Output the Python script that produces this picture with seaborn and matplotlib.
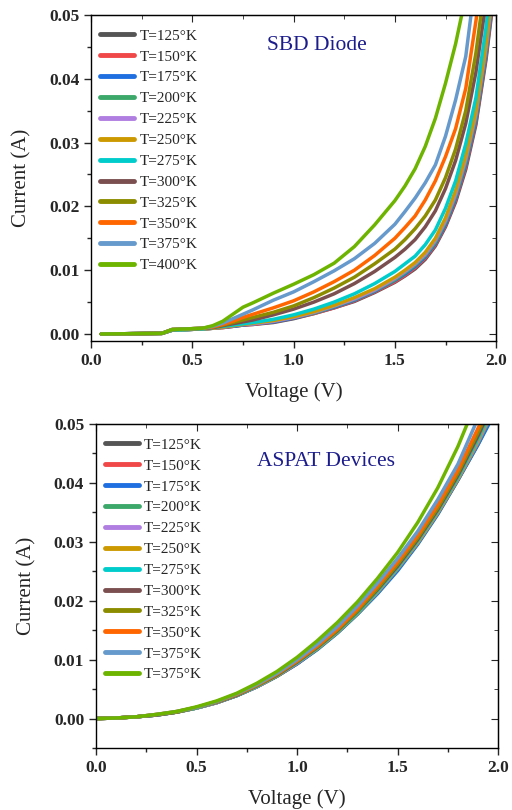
import matplotlib
matplotlib.use("Agg")
import matplotlib.pyplot as plt
import seaborn as sns
from matplotlib.ticker import MultipleLocator, FormatStrFormatter

sns.set_style("ticks")
plt.rcParams["font.family"] = ["Liberation Serif", "DejaVu Serif"]

# colours used for the temperature series (same in both panels)
colors = ["#555555", "#f04848", "#1f6fe0", "#3ca86a", "#b07ee0", "#cc9900",
          "#00cccc", "#7b4f4f", "#8c8c00", "#ff6600", "#6699cc", "#6db400"]

# ---------------- SBD diode data ----------------
sbd_labels = ["T=125°K", "T=150°K", "T=175°K", "T=200°K", "T=225°K", "T=250°K",
              "T=275°K", "T=300°K", "T=325°K", "T=350°K", "T=375°K", "T=400°K"]
sbd_v = [0.05, 0.35, 0.4, 0.55, 0.6, 0.65, 0.7, 0.75, 0.8, 0.9, 1.0, 1.1, 1.2,
         1.3, 1.4, 1.5, 1.55, 1.6, 1.65, 1.7, 1.75, 1.8, 1.85, 1.9, 1.95, 2.0]
sbd_125 = [0, 0.0001, 0.0006, 0.0008, 0.0009, 0.0010, 0.0012, 0.0014, 0.0015, 0.0018, 0.0024, 0.0032, 0.0041,
           0.0051, 0.0065, 0.0081, 0.0091, 0.0102, 0.0117, 0.0138, 0.0168, 0.0207, 0.0258, 0.0328, 0.0430, 0.0560]
sbd_150 = [0, 0.0001, 0.0006, 0.0008, 0.0009, 0.0010, 0.0012, 0.0014, 0.0015, 0.0019, 0.0025, 0.0032, 0.0041,
           0.0052, 0.0066, 0.0082, 0.0092, 0.0104, 0.0119, 0.0140, 0.0170, 0.0210, 0.0262, 0.0332, 0.0435, 0.0565]
sbd_175 = [0, 0.0001, 0.0006, 0.0008, 0.0009, 0.0011, 0.0012, 0.0014, 0.0016, 0.0019, 0.0025, 0.0033, 0.0042,
           0.0053, 0.0067, 0.0084, 0.0094, 0.0106, 0.0121, 0.0142, 0.0172, 0.0213, 0.0266, 0.0336, 0.0440, 0.0570]
sbd_200 = [0, 0.0001, 0.0006, 0.0008, 0.0009, 0.0011, 0.0013, 0.0015, 0.0016, 0.0020, 0.0026, 0.0033, 0.0043,
           0.0054, 0.0068, 0.0085, 0.0096, 0.0108, 0.0123, 0.0144, 0.0175, 0.0216, 0.0270, 0.0340, 0.0444, 0.0575]
sbd_225 = [0, 0.0001, 0.0006, 0.0008, 0.0009, 0.0011, 0.0013, 0.0015, 0.0016, 0.0020, 0.0026, 0.0034, 0.0044,
           0.0055, 0.0069, 0.0087, 0.0098, 0.0110, 0.0125, 0.0147, 0.0178, 0.0220, 0.0275, 0.0345, 0.0450, 0.0580]
sbd_250 = [0, 0.0001, 0.0006, 0.0008, 0.0009, 0.0011, 0.0013, 0.0015, 0.0017, 0.0021, 0.0027, 0.0035, 0.0045,
           0.0057, 0.0071, 0.0089, 0.0100, 0.0112, 0.0128, 0.0150, 0.0182, 0.0225, 0.0280, 0.0350, 0.0455, 0.0590]
sbd_275 = [0, 0.0001, 0.0006, 0.0008, 0.0010, 0.0012, 0.0014, 0.0016, 0.0018, 0.0023, 0.0030, 0.0039, 0.0050,
           0.0063, 0.0079, 0.0098, 0.0110, 0.0122, 0.0140, 0.0163, 0.0197, 0.0240, 0.0298, 0.0370, 0.0480, 0.0620]
sbd_300 = [0, 0.0001, 0.0007, 0.0009, 0.0010, 0.0013, 0.0016, 0.0019, 0.0022, 0.0030, 0.0039, 0.0050, 0.0063,
           0.0079, 0.0098, 0.0120, 0.0133, 0.0148, 0.0168, 0.0193, 0.0228, 0.0272, 0.0330, 0.0410, 0.0520, 0.0660]
sbd_325 = [0, 0.0001, 0.0007, 0.0009, 0.0011, 0.0014, 0.0018, 0.0022, 0.0026, 0.0034, 0.0044, 0.0057, 0.0072,
           0.0089, 0.0110, 0.0133, 0.0148, 0.0165, 0.0185, 0.0210, 0.0245, 0.0290, 0.0350, 0.0440, 0.0560, 0.0700]
sbd_350 = [0, 0.0001, 0.0007, 0.0009, 0.0011, 0.0015, 0.0020, 0.0026, 0.0031, 0.0041, 0.0052, 0.0066, 0.0082,
           0.0100, 0.0123, 0.0150, 0.0167, 0.0185, 0.0210, 0.0240, 0.0278, 0.0322, 0.0385, 0.0490, 0.0610, 0.0750]
sbd_375 = [0, 0.0001, 0.0007, 0.0009, 0.0012, 0.0017, 0.0024, 0.0031, 0.0038, 0.0053, 0.0066, 0.0082, 0.0099,
           0.0118, 0.0142, 0.0172, 0.0192, 0.0213, 0.0237, 0.0265, 0.0310, 0.0367, 0.0435, 0.0560, 0.0680, 0.0800]
sbd_400 = [0, 0.0001, 0.0007, 0.0009, 0.0013, 0.0020, 0.0031, 0.0042, 0.0049, 0.0064, 0.0078, 0.0093, 0.0111,
           0.0137, 0.0171, 0.0209, 0.0232, 0.0259, 0.0294, 0.0338, 0.0393, 0.0455, 0.0530, 0.0620, 0.0720, 0.0830]
sbd_series = [sbd_125, sbd_150, sbd_175, sbd_200, sbd_225, sbd_250,
              sbd_275, sbd_300, sbd_325, sbd_350, sbd_375, sbd_400]

# ---------------- ASPAT device data ----------------
asp_labels = ["T=125°K", "T=150°K", "T=175°K", "T=200°K", "T=225°K", "T=250°K",
              "T=275°K", "T=300°K", "T=325°K", "T=350°K", "T=375°K", "T=375°K"]
asp_v = [0.0, 0.1, 0.2, 0.3, 0.4, 0.5, 0.6, 0.7, 0.8, 0.9, 1.0,
         1.1, 1.2, 1.3, 1.4, 1.5, 1.6, 1.7, 1.8, 1.9, 2.0]
asp_125 = [0, 0.0001, 0.0003, 0.0006, 0.0011, 0.0018, 0.0027, 0.0039, 0.0054, 0.0072, 0.0093,
           0.0118, 0.0146, 0.0178, 0.0214, 0.0253, 0.0298, 0.0349, 0.0406, 0.0467, 0.0536]
asp_150 = [0, 0.0001, 0.0003, 0.0006, 0.0011, 0.0018, 0.0027, 0.0039, 0.0054, 0.0072, 0.0093,
           0.0118, 0.0146, 0.0178, 0.0213, 0.0253, 0.0297, 0.0348, 0.0405, 0.0466, 0.0534]
asp_175 = [0, 0.0001, 0.0003, 0.0006, 0.0011, 0.0018, 0.0027, 0.0039, 0.0054, 0.0072, 0.0093,
           0.0117, 0.0145, 0.0177, 0.0212, 0.0251, 0.0296, 0.0347, 0.0405, 0.0465, 0.0530]
asp_200 = [0, 0.0001, 0.0003, 0.0006, 0.0011, 0.0018, 0.0027, 0.0039, 0.0054, 0.0072, 0.0094,
           0.0118, 0.0146, 0.0178, 0.0214, 0.0254, 0.0298, 0.0349, 0.0406, 0.0468, 0.0538]
asp_225 = [0, 0.0001, 0.0003, 0.0006, 0.0011, 0.0018, 0.0027, 0.0040, 0.0054, 0.0073, 0.0094,
           0.0119, 0.0147, 0.0179, 0.0215, 0.0255, 0.0299, 0.0350, 0.0407, 0.0470, 0.0542]
asp_250 = [0, 0.0001, 0.0003, 0.0006, 0.0011, 0.0018, 0.0028, 0.0040, 0.0055, 0.0073, 0.0095,
           0.0119, 0.0147, 0.0179, 0.0216, 0.0256, 0.0300, 0.0351, 0.0408, 0.0473, 0.0546]
asp_275 = [0, 0.0001, 0.0003, 0.0006, 0.0011, 0.0018, 0.0028, 0.0040, 0.0055, 0.0074, 0.0095,
           0.0120, 0.0148, 0.0180, 0.0217, 0.0257, 0.0302, 0.0353, 0.0410, 0.0476, 0.0550]
asp_300 = [0, 0.0001, 0.0003, 0.0006, 0.0011, 0.0019, 0.0028, 0.0040, 0.0056, 0.0074, 0.0096,
           0.0121, 0.0149, 0.0182, 0.0219, 0.0259, 0.0304, 0.0355, 0.0413, 0.0480, 0.0555]
asp_325 = [0, 0.0001, 0.0003, 0.0007, 0.0011, 0.0019, 0.0028, 0.0041, 0.0056, 0.0075, 0.0097,
           0.0122, 0.0150, 0.0183, 0.0221, 0.0262, 0.0307, 0.0358, 0.0417, 0.0486, 0.0560]
asp_350 = [0, 0.0001, 0.0003, 0.0007, 0.0012, 0.0019, 0.0029, 0.0041, 0.0057, 0.0076, 0.0098,
           0.0123, 0.0152, 0.0186, 0.0225, 0.0266, 0.0311, 0.0363, 0.0422, 0.0493, 0.0570]
asp_375a = [0, 0.0001, 0.0003, 0.0007, 0.0012, 0.0019, 0.0029, 0.0042, 0.0058, 0.0077, 0.0100,
            0.0126, 0.0156, 0.0191, 0.0230, 0.0272, 0.0318, 0.0372, 0.0432, 0.0510, 0.0590]
asp_375b = [0, 0.0001, 0.0003, 0.0007, 0.0012, 0.0020, 0.0030, 0.0043, 0.0060, 0.0080, 0.0104,
            0.0132, 0.0163, 0.0198, 0.0238, 0.0282, 0.0333, 0.0392, 0.0462, 0.0545, 0.0640]
asp_series = [asp_125, asp_150, asp_175, asp_200, asp_225, asp_250,
              asp_275, asp_300, asp_325, asp_350, asp_375a, asp_375b]

fig = plt.figure(figsize=(5.12, 8.10), dpi=100)
ax1 = fig.add_axes([0.178, 0.579, 0.791, 0.4025])
ax2 = fig.add_axes([0.1875, 0.0765, 0.7855, 0.40])


def draw_panel(ax, volts, series, labels, title, title_xy, ymin, legend_anchor):
    for ys, lab, col in zip(series, labels, colors):
        sns.lineplot(x=volts, y=ys, color=col, lw=2.5, label=lab, ax=ax)
    ax.set_xlim(0, 2.0)
    ax.set_ylim(ymin, 0.05)
    ax.xaxis.set_major_locator(MultipleLocator(0.5))
    ax.xaxis.set_minor_locator(MultipleLocator(0.25))
    ax.yaxis.set_major_locator(MultipleLocator(0.01))
    ax.yaxis.set_minor_locator(MultipleLocator(0.005))
    ax.xaxis.set_major_formatter(FormatStrFormatter("%.1f"))
    ax.yaxis.set_major_formatter(FormatStrFormatter("%.2f"))
    ax.tick_params(which="major", direction="out", length=5, width=1, labelsize=12.5)
    ax.tick_params(which="minor", direction="out", length=3, width=1)
    for lbl in ax.get_xticklabels() + ax.get_yticklabels():
        lbl.set_fontweight("bold")
    for sp in ax.spines.values():
        sp.set_linewidth(1.0)
        sp.set_color("black")

    # mirrored ticks on top and right, pointing inwards
    top = ax.secondary_xaxis("top")
    top.xaxis.set_major_locator(MultipleLocator(0.5))
    top.xaxis.set_minor_locator(MultipleLocator(0.25))
    top.tick_params(which="major", direction="in", length=5, labeltop=False)
    top.tick_params(which="minor", direction="in", length=3)
    right = ax.secondary_yaxis("right")
    right.yaxis.set_major_locator(MultipleLocator(0.01))
    right.yaxis.set_minor_locator(MultipleLocator(0.005))
    right.tick_params(which="major", direction="in", length=5, labelright=False)
    right.tick_params(which="minor", direction="in", length=3)

    ax.set_xlabel("Voltage (V)", fontsize=15, labelpad=10)
    ax.set_ylabel("Current (A)", fontsize=15)
    ax.text(title_xy[0], title_xy[1], title, transform=ax.transAxes,
            color="#1c1c8c", fontsize=15.5, ha="left", va="center")

    leg = ax.legend(loc="upper left", bbox_to_anchor=legend_anchor, frameon=False,
                    fontsize=11, handlelength=2.2, handletextpad=0.35,
                    labelspacing=0.47, borderaxespad=0.2)
    for h in leg.get_lines():
        h.set_linewidth(3.5)


draw_panel(ax1, sbd_v, sbd_series, sbd_labels, "SBD Diode", (0.435, 0.905),
           -0.0011, (0.0, 0.985))
draw_panel(ax2, asp_v, asp_series, asp_labels, "ASPAT Devices", (0.40, 0.885),
           -0.005, (0.0, 0.985))

ax1.yaxis.set_label_coords(-0.148, 0.5)
ax2.yaxis.set_label_coords(-0.149, 0.5)

fig.savefig("out.png", dpi=100)
